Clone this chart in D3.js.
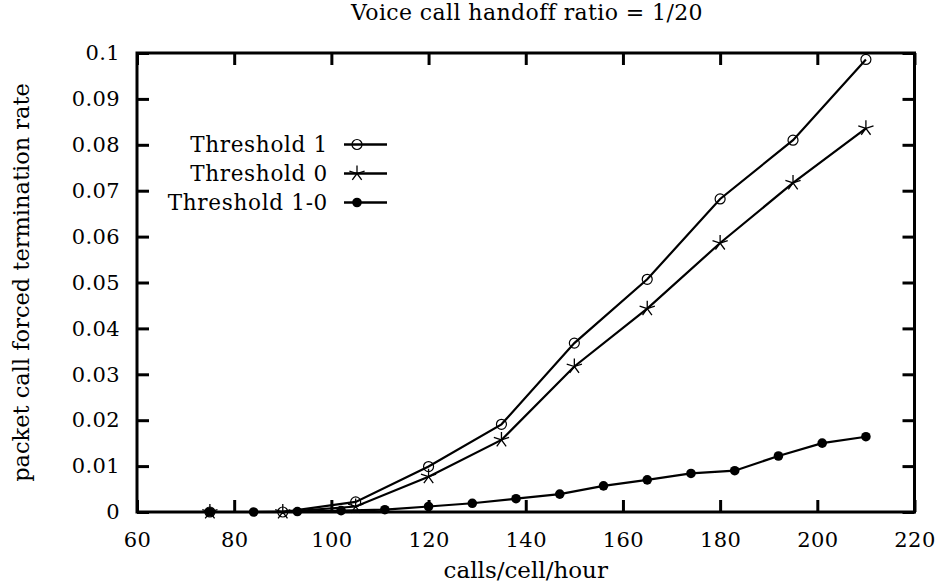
<!DOCTYPE html>
<html lang="en">
<head>
<meta charset="utf-8">
<title>Voice call handoff ratio = 1/20</title>
<script src="https://d3js.org/d3.v7.min.js"></script>
<style>
  body { margin: 0; background: #fff; }
  .axis path.domain { display: none; }
  .axis line { stroke: #000; stroke-width: 3; }
</style>
</head>
<body>
<script>
// data
var xThresh = [75, 90, 105, 120, 135, 150, 165, 180, 195, 210];
var thresh1 = [0, 0, 0.0022, 0.0099, 0.0191, 0.0368, 0.0507, 0.0682, 0.0810, 0.0986];
var thresh0 = [0, 0, 0.0012, 0.0077, 0.0157, 0.0317, 0.0443, 0.0586, 0.0717, 0.0836];
var xDiff = [75, 84, 93, 102, 111, 120, 129, 138, 147, 156, 165, 174, 183, 192, 201, 210];
var thresh10 = [0, 0, 0.0001, 0.0003, 0.0005, 0.0012, 0.0019, 0.0029, 0.0039, 0.0057, 0.0070, 0.0084, 0.0090, 0.0122, 0.0150, 0.0164];
var xTicks = [60, 80, 100, 120, 140, 160, 180, 200, 220];
var yTicks = [0, 0.01, 0.02, 0.03, 0.04, 0.05, 0.06, 0.07, 0.08, 0.09, 0.1];
var seriesNames = ["Threshold 1", "Threshold 0", "Threshold 1-0"];

var FONT = "DejaVu Serif";
var W = 938, H = 588;
var pLeft = 137, pRight = 914.5, pTop = 53, pBottom = 512;

var x = d3.scaleLinear().domain([60, 220]).range([pLeft, pRight]);
var y = d3.scaleLinear().domain([0, 0.1]).range([pBottom, pTop]);

var svg = d3.select("body").append("svg")
  .attr("width", W).attr("height", H)
  .attr("font-family", FONT);

// title
svg.append("text")
  .attr("x", 527).attr("y", 20)
  .attr("text-anchor", "middle")
  .attr("font-family", FONT)
  .attr("font-size", 22)
  .attr("letter-spacing", 0.4)
  .text("Voice call handoff ratio = 1/20");

// axes, ticks pointing inward on all four sides
var tk = 12;
svg.append("g").attr("class", "axis")
  .attr("transform", "translate(0," + pBottom + ")")
  .call(d3.axisBottom(x).tickValues(xTicks).tickSizeInner(-tk).tickSizeOuter(0).tickPadding(20).tickFormat(d3.format("d")));
svg.append("g").attr("class", "axis")
  .attr("transform", "translate(0," + pTop + ")")
  .call(d3.axisTop(x).tickValues(xTicks).tickSizeInner(-tk).tickSizeOuter(0).tickFormat(""));
svg.append("g").attr("class", "axis")
  .attr("transform", "translate(" + pLeft + ",0)")
  .call(d3.axisLeft(y).tickValues(yTicks).tickSizeInner(-tk).tickSizeOuter(0).tickPadding(17).tickFormat(function(d) { return String(+d.toFixed(2)); }));
svg.append("g").attr("class", "axis")
  .attr("transform", "translate(" + pRight + ",0)")
  .call(d3.axisRight(y).tickValues(yTicks).tickSizeInner(-tk).tickSizeOuter(0).tickFormat(""));

svg.selectAll(".axis").attr("font-family", FONT).attr("font-size", 21);
svg.selectAll(".axis text").attr("font-family", FONT).attr("letter-spacing", 0.4);

// frame
svg.append("rect")
  .attr("x", pLeft).attr("y", pTop)
  .attr("width", pRight - pLeft).attr("height", pBottom - pTop)
  .attr("fill", "none").attr("stroke", "#000").attr("stroke-width", 3);

// axis labels
svg.append("text")
  .attr("x", (pLeft + pRight) / 2).attr("y", 578)
  .attr("text-anchor", "middle")
  .attr("font-family", FONT).attr("font-size", 23)
  .text("calls/cell/hour");
svg.append("text")
  .attr("transform", "translate(29," + (pTop + pBottom) / 2 + ") rotate(-90)")
  .attr("text-anchor", "middle")
  .attr("font-family", FONT).attr("font-size", 22.5)
  .text("packet call forced termination rate");

// markers
var starPath = function(r) {
  var p = "";
  for (var i = 0; i < 5; i++) {
    var a = -Math.PI / 2 + i * 2 * Math.PI / 5;
    p += "M0,0L" + (r * Math.cos(a)).toFixed(2) + "," + (r * Math.sin(a)).toFixed(2);
  }
  return p;
};

function drawMarker(g, type, cx, cy) {
  if (type === 0) {
    g.append("circle").attr("cx", cx).attr("cy", cy).attr("r", 5)
      .attr("fill", "none").attr("stroke", "#000").attr("stroke-width", 1.2);
  } else if (type === 1) {
    g.append("path").attr("d", starPath(8))
      .attr("transform", "translate(" + cx + "," + cy + ")")
      .attr("fill", "none").attr("stroke", "#000").attr("stroke-width", 1.3);
  } else {
    g.append("circle").attr("cx", cx).attr("cy", cy).attr("r", 4.8).attr("fill", "#000");
  }
}

var series = [
  { xs: xThresh, ys: thresh1 },
  { xs: xThresh, ys: thresh0 },
  { xs: xDiff, ys: thresh10 }
];

var line = d3.line()
  .x(function(d) { return x(d[0]); })
  .y(function(d) { return y(d[1]); });

series.forEach(function(s, i) {
  var pts = s.xs.map(function(v, j) { return [v, s.ys[j]]; });
  var g = svg.append("g");
  g.append("path").datum(pts)
    .attr("d", line)
    .attr("fill", "none").attr("stroke", "#000").attr("stroke-width", 2.2);
  pts.forEach(function(p) { drawMarker(g, i, x(p[0]), y(p[1])); });
});

// legend
var leg = svg.append("g");
seriesNames.forEach(function(name, i) {
  var ly = 144.5 + i * 29;
  leg.append("text")
    .attr("x", 328).attr("y", ly).attr("dy", "0.35em")
    .attr("text-anchor", "end")
    .attr("font-family", FONT).attr("font-size", 21.5).attr("letter-spacing", 0.7)
    .text(name);
  leg.append("line")
    .attr("x1", 344).attr("x2", 387).attr("y1", ly).attr("y2", ly)
    .attr("stroke", "#000").attr("stroke-width", 2.6);
  drawMarker(leg, i, 357, ly);
});
</script>
</body>
</html>
